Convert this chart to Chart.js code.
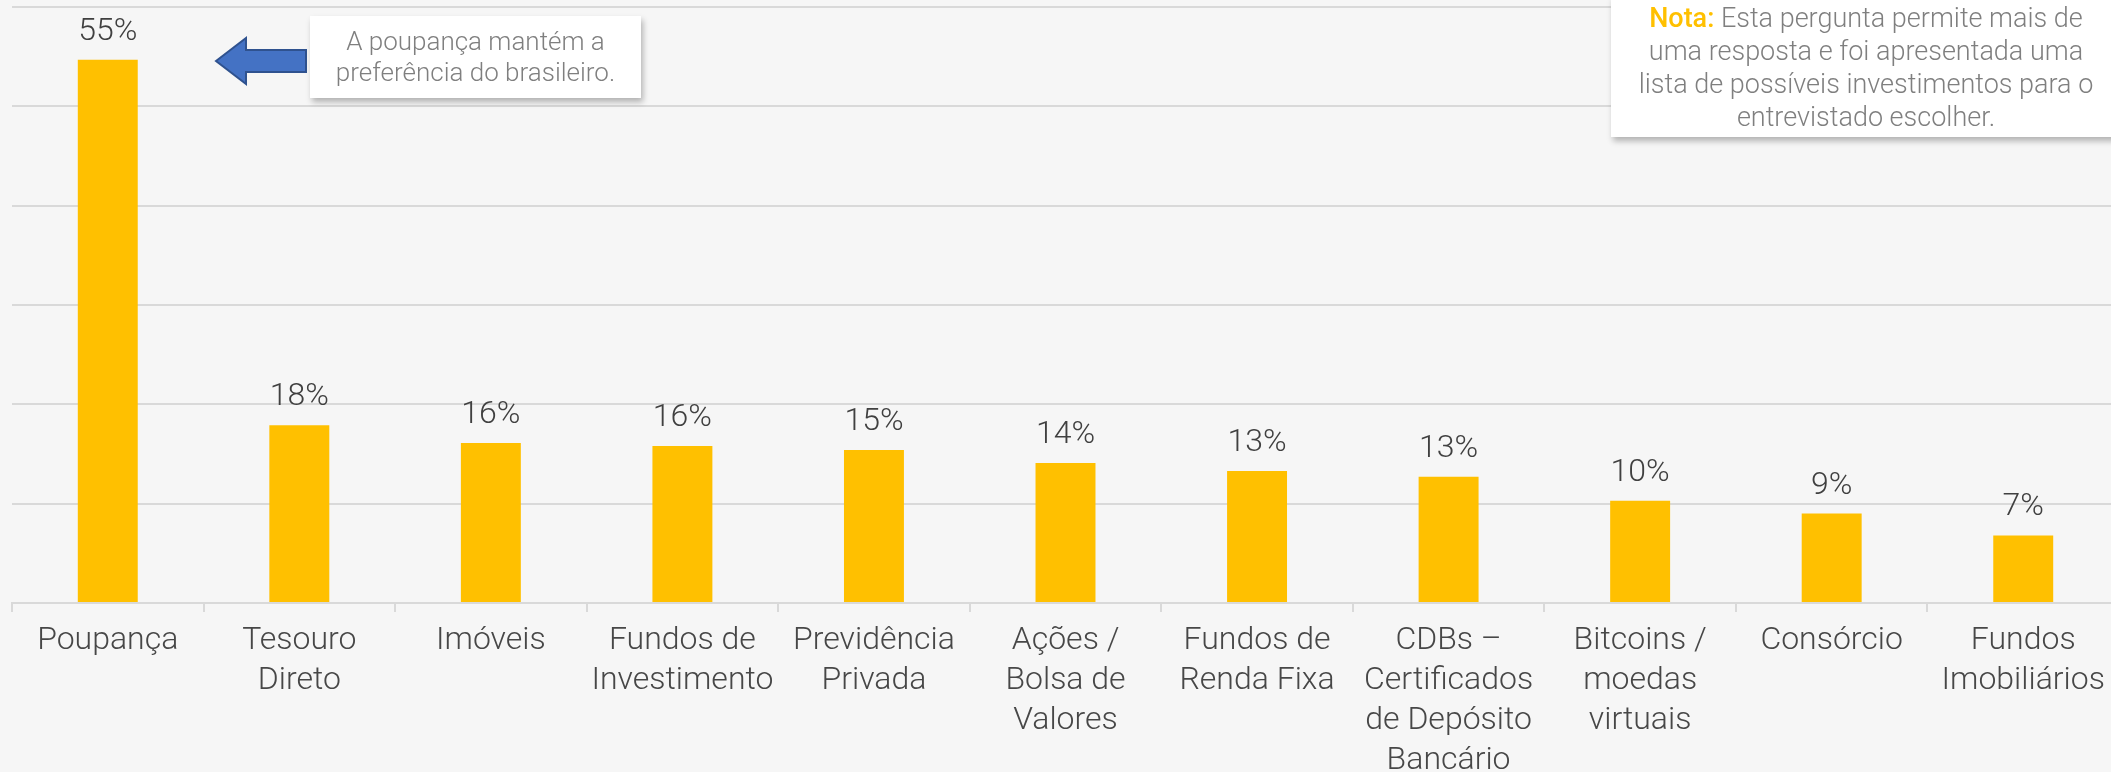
<!DOCTYPE html>
<html lang="pt-BR">
<head>
<meta charset="utf-8">
<script src="https://cdn.jsdelivr.net/npm/chart.js@4.4.1/dist/chart.umd.min.js"></script>
<style>
  html, body { margin:0; padding:0; background:#f6f6f6; overflow:hidden; }
  body { width:2111px; height:772px; position:relative; font-family:Roboto, "Open Sans", sans-serif; }
  #wrap { position:absolute; left:0; top:0; width:2120px; height:772px; }
  .box { position:absolute; background:#fff; box-shadow:2px 4px 6px rgba(0,0,0,.28); text-align:center; color:#7f7f7f; font-weight:300; }
  #callout { left:310px; top:16px; width:331px; height:82px; font-size:26px; line-height:31px; padding-top:10px; box-sizing:border-box; }
  #note { left:1611px; top:-4px; width:510px; height:141px; font-size:27px; line-height:33px; padding-top:6px; box-sizing:border-box; }
  #note b { color:#ffc000; font-weight:500; }
  #arrow { position:absolute; left:212px; top:34px; }
</style>
</head>
<body>
<div id="wrap"><canvas id="chart"></canvas></div>
<svg id="arrow" width="100" height="54" viewBox="0 0 100 54">
  <polygon points="4,27 34,4 34,16 94,16 94,38 34,38 34,50" fill="#4472c4" stroke="#2f528f" stroke-width="2"/>
</svg>
<div id="callout" class="box">A poupança mantém a<br>preferência do brasileiro.</div>
<div id="note" class="box"><b>Nota:</b> Esta pergunta permite mais de<br>uma resposta e foi apresentada uma<br>lista de possíveis investimentos para o<br>entrevistado escolher.</div>
<script>
const categories = [
  'Poupança',
  ['Tesouro', 'Direto'],
  'Imóveis',
  ['Fundos de', 'Investimento'],
  ['Previdência', 'Privada'],
  ['Ações /', 'Bolsa de', 'Valores'],
  ['Fundos de', 'Renda Fixa'],
  ['CDBs –', 'Certificados', 'de Depósito', 'Bancário'],
  ['Bitcoins /', 'moedas', 'virtuais'],
  'Consórcio',
  ['Fundos', 'Imobiliários']
];
const values = [54.7, 17.9, 16.1, 15.8, 15.4, 14.1, 13.3, 12.7, 10.3, 9.0, 6.8];
const yTicks = [0, 10, 20, 30, 40, 50, 60];

// rótulos de valor acima das barras
const valueLabels = {
  id: 'valueLabels',
  afterDatasetsDraw(chart) {
    const ctx = chart.ctx;
    const meta = chart.getDatasetMeta(0);
    ctx.save();
    ctx.font = '300 32px Roboto';
    ctx.fillStyle = '#404040';
    ctx.textAlign = 'center';
    ctx.textBaseline = 'alphabetic';
    meta.data.forEach((bar, i) => {
      ctx.fillText(Math.round(values[i]) + '%', bar.x, bar.y - 20);
    });
    ctx.restore();
  }
};

new Chart(document.getElementById('chart'), {
  type: 'bar',
  data: {
    labels: categories,
    datasets: [{
      data: values,
      backgroundColor: '#ffc000',
      barPercentage: 0.313,
      categoryPercentage: 1
    }]
  },
  options: {
    responsive: true,
    maintainAspectRatio: false,
    animation: false,
    layout: { padding: { top: 7, left: 12, right: 1, bottom: 0 } },
    plugins: { legend: { display: false }, tooltip: { enabled: false } },
    scales: {
      x: {
        afterFit: s => { s.height = 169; },
        grid: { offset: true, drawOnChartArea: false, drawTicks: true, tickLength: 9, color: '#d9d9d9', lineWidth: 2 },
        border: { color: '#d9d9d9', width: 2 },
        ticks: { padding: 9, color: '#474747', font: { family: 'Roboto', weight: 300, size: 32, lineHeight: 1.25 }, maxRotation: 0, autoSkip: false }
      },
      y: {
        min: yTicks[0],
        max: yTicks[yTicks.length - 1],
        afterFit: s => { s.width = 0; },
        afterBuildTicks: s => { s.ticks = yTicks.map(v => ({ value: v })); },
        ticks: { display: false },
        border: { display: false },
        grid: { color: '#d9d9d9', lineWidth: 2, drawTicks: false }
      }
    }
  },
  plugins: [valueLabels]
});
</script>
</body>
</html>
